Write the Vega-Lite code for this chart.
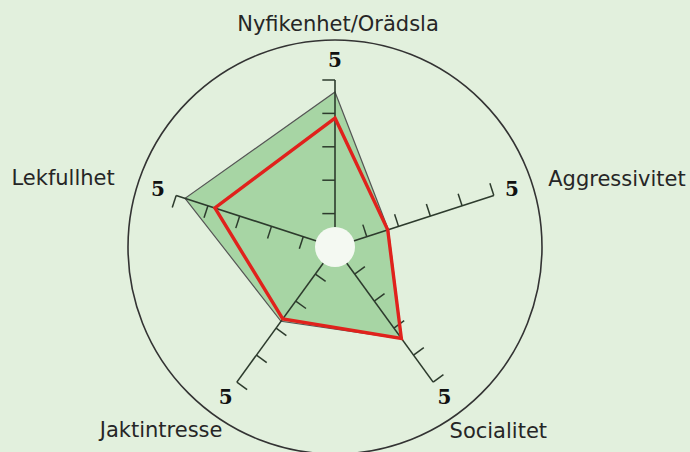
{
  "$schema": "https://vega.github.io/schema/vega-lite/v6.json",
  "width": 690,
  "height": 452,
  "autosize": {"type": "none"},
  "padding": 0,
  "background": "#e2f0dd",
  "config": {"view": {"stroke": null}},
  "datasets": {
    "axes": [
      {"axis": "Nyfikenhet/Orädsla", "idx": 0, "min": 0, "max": 5, "ticks": [1, 2, 3, 4, 5]},
      {"axis": "Aggressivitet", "idx": 1, "min": 0, "max": 5, "ticks": [1, 2, 3, 4, 5]},
      {"axis": "Socialitet", "idx": 2, "min": 0, "max": 5, "ticks": [1, 2, 3, 4, 5]},
      {"axis": "Jaktintresse", "idx": 3, "min": 0, "max": 5, "ticks": [1, 2, 3, 4, 5]},
      {"axis": "Lekfullhet", "idx": 4, "min": 0, "max": 5, "ticks": [1, 2, 3, 4, 5]}
    ],
    "scores": [
      {"series": "Genomsnitt", "axis": "Nyfikenhet/Orädsla", "idx": 0, "value": 4.64},
      {"series": "Genomsnitt", "axis": "Aggressivitet", "idx": 1, "value": 1.68},
      {"series": "Genomsnitt", "axis": "Socialitet", "idx": 2, "value": 3.4},
      {"series": "Genomsnitt", "axis": "Jaktintresse", "idx": 3, "value": 2.75},
      {"series": "Genomsnitt", "axis": "Lekfullhet", "idx": 4, "value": 4.72},
      {"series": "Hund", "axis": "Nyfikenhet/Orädsla", "idx": 0, "value": 3.86},
      {"series": "Hund", "axis": "Aggressivitet", "idx": 1, "value": 1.66},
      {"series": "Hund", "axis": "Socialitet", "idx": 2, "value": 3.38},
      {"series": "Hund", "axis": "Jaktintresse", "idx": 3, "value": 2.66},
      {"series": "Hund", "axis": "Lekfullhet", "idx": 4, "value": 3.78}
    ],
    "center": [{"cx": 0, "cy": 0}]
  },
  "layer": [
    {
      "data": {"name": "center"},
      "mark": {"type": "point", "shape": "circle", "size": 171396, "filled": false, "stroke": "#333333", "strokeWidth": 1.6, "opacity": 1},
      "encoding": {
        "x": {"field": "cx", "type": "quantitative", "scale": {"domain": [-10.0299, 10.6287], "nice": false, "zero": false}, "axis": null},
        "y": {"field": "cy", "type": "quantitative", "scale": {"domain": [-6.1377, 7.3952], "nice": false, "zero": false}, "axis": null}
      }
    },
    {
      "data": {"name": "scores"},
      "transform": [
        {"filter": "datum.series === 'Genomsnitt'"},
        {"calculate": "PI/2 - datum.idx*2*PI/5", "as": "ang"},
        {"calculate": "datum.value*cos(datum.ang)", "as": "px"},
        {"calculate": "datum.value*sin(datum.ang)", "as": "py"}
      ],
      "mark": {"type": "line", "interpolate": "linear-closed", "filled": true, "fill": "#a7d5a4", "stroke": "#555555", "strokeWidth": 1.2, "fillOpacity": 1},
      "encoding": {
        "x": {"field": "px", "type": "quantitative", "scale": {"domain": [-10.0299, 10.6287], "nice": false, "zero": false}, "axis": null},
        "y": {"field": "py", "type": "quantitative", "scale": {"domain": [-6.1377, 7.3952], "nice": false, "zero": false}, "axis": null},
        "order": {"field": "idx", "type": "quantitative"}
      }
    },
    {
      "data": {"name": "axes"},
      "transform": [
        {"calculate": "PI/2 - datum.idx*2*PI/5", "as": "ang"},
        {"calculate": "datum.min*cos(datum.ang)", "as": "sx"},
        {"calculate": "datum.min*sin(datum.ang)", "as": "sy"},
        {"calculate": "datum.max*cos(datum.ang)", "as": "ex"},
        {"calculate": "datum.max*sin(datum.ang)", "as": "ey"}
      ],
      "mark": {"type": "rule", "stroke": "#2d3b2d", "strokeWidth": 1.6},
      "encoding": {
        "x": {"field": "sx", "type": "quantitative", "scale": {"domain": [-10.0299, 10.6287], "nice": false, "zero": false}, "axis": null},
        "y": {"field": "sy", "type": "quantitative", "scale": {"domain": [-6.1377, 7.3952], "nice": false, "zero": false}, "axis": null},
        "x2": {"field": "ex"},
        "y2": {"field": "ey"}
      }
    },
    {
      "data": {"name": "axes"},
      "transform": [
        {"flatten": ["ticks"], "as": ["t"]},
        {"calculate": "PI/2 - datum.idx*2*PI/5", "as": "ang"},
        {"calculate": "datum.t*cos(datum.ang)", "as": "tx"},
        {"calculate": "datum.t*sin(datum.ang)", "as": "ty"},
        {"calculate": "datum.tx - 0.38*sin(datum.ang)", "as": "tx2"},
        {"calculate": "datum.ty + 0.38*cos(datum.ang)", "as": "ty2"}
      ],
      "mark": {"type": "rule", "stroke": "#2d3b2d", "strokeWidth": 1.5},
      "encoding": {
        "x": {"field": "tx", "type": "quantitative", "scale": {"domain": [-10.0299, 10.6287], "nice": false, "zero": false}, "axis": null},
        "y": {"field": "ty", "type": "quantitative", "scale": {"domain": [-6.1377, 7.3952], "nice": false, "zero": false}, "axis": null},
        "x2": {"field": "tx2"},
        "y2": {"field": "ty2"}
      }
    },
    {
      "data": {"name": "center"},
      "mark": {"type": "point", "shape": "circle", "size": 1600, "filled": true, "fill": "#f4f9f2", "strokeWidth": 0, "opacity": 1},
      "encoding": {
        "x": {"field": "cx", "type": "quantitative", "scale": {"domain": [-10.0299, 10.6287], "nice": false, "zero": false}, "axis": null},
        "y": {"field": "cy", "type": "quantitative", "scale": {"domain": [-6.1377, 7.3952], "nice": false, "zero": false}, "axis": null}
      }
    },
    {
      "data": {"name": "scores"},
      "transform": [
        {"filter": "datum.series === 'Hund'"},
        {"calculate": "PI/2 - datum.idx*2*PI/5", "as": "ang"},
        {"calculate": "datum.value*cos(datum.ang)", "as": "px"},
        {"calculate": "datum.value*sin(datum.ang)", "as": "py"}
      ],
      "mark": {"type": "line", "interpolate": "linear-closed", "stroke": "#e0221c", "strokeWidth": 3.4, "strokeJoin": "miter"},
      "encoding": {
        "x": {"field": "px", "type": "quantitative", "scale": {"domain": [-10.0299, 10.6287], "nice": false, "zero": false}, "axis": null},
        "y": {"field": "py", "type": "quantitative", "scale": {"domain": [-6.1377, 7.3952], "nice": false, "zero": false}, "axis": null},
        "order": {"field": "idx", "type": "quantitative"}
      }
    },
    {
      "data": {"name": "axes"},
      "transform": [
        {"calculate": "PI/2 - datum.idx*2*PI/5", "as": "ang"},
        {"calculate": "(datum.max+0.57)*cos(datum.ang)", "as": "lx"},
        {"calculate": "(datum.max+0.57)*sin(datum.ang)", "as": "ly"}
      ],
      "mark": {"type": "text", "font": "DejaVu Serif", "fontWeight": "bold", "fontSize": 20, "align": "center", "baseline": "middle", "fill": "#111111"},
      "encoding": {
        "x": {"field": "lx", "type": "quantitative", "scale": {"domain": [-10.0299, 10.6287], "nice": false, "zero": false}, "axis": null},
        "y": {"field": "ly", "type": "quantitative", "scale": {"domain": [-6.1377, 7.3952], "nice": false, "zero": false}, "axis": null},
        "text": {"field": "max", "type": "quantitative"}
      }
    },
    {
      "data": {"name": "axes"},
      "transform": [
        {"filter": "datum.idx === 0"},
        {"calculate": "PI/2 - datum.idx*2*PI/5", "as": "ang"},
        {"calculate": "6.65*cos(datum.ang)", "as": "lx"},
        {"calculate": "6.65*sin(datum.ang)", "as": "ly"}
      ],
      "mark": {"type": "text", "font": "DejaVu Sans", "fontSize": 21, "align": "center", "baseline": "alphabetic", "dx": 3, "dy": 6, "fill": "#262626"},
      "encoding": {
        "x": {"field": "lx", "type": "quantitative", "scale": {"domain": [-10.0299, 10.6287], "nice": false, "zero": false}, "axis": null},
        "y": {"field": "ly", "type": "quantitative", "scale": {"domain": [-6.1377, 7.3952], "nice": false, "zero": false}, "axis": null},
        "text": {"field": "axis", "type": "nominal"}
      }
    },
    {
      "data": {"name": "axes"},
      "transform": [
        {"filter": "datum.idx === 1"},
        {"calculate": "PI/2 - datum.idx*2*PI/5", "as": "ang"},
        {"calculate": "6.65*cos(datum.ang)", "as": "lx"},
        {"calculate": "6.65*sin(datum.ang)", "as": "ly"}
      ],
      "mark": {"type": "text", "font": "DejaVu Sans", "fontSize": 21, "align": "left", "baseline": "alphabetic", "dx": 2, "dy": 8, "fill": "#262626"},
      "encoding": {
        "x": {"field": "lx", "type": "quantitative", "scale": {"domain": [-10.0299, 10.6287], "nice": false, "zero": false}, "axis": null},
        "y": {"field": "ly", "type": "quantitative", "scale": {"domain": [-6.1377, 7.3952], "nice": false, "zero": false}, "axis": null},
        "text": {"field": "axis", "type": "nominal"}
      }
    },
    {
      "data": {"name": "axes"},
      "transform": [
        {"filter": "datum.idx === 2"},
        {"calculate": "PI/2 - datum.idx*2*PI/5", "as": "ang"},
        {"calculate": "6.65*cos(datum.ang)", "as": "lx"},
        {"calculate": "6.65*sin(datum.ang)", "as": "ly"}
      ],
      "mark": {"type": "text", "font": "DejaVu Sans", "fontSize": 21, "align": "left", "baseline": "alphabetic", "dx": -16, "dy": 11, "fill": "#262626"},
      "encoding": {
        "x": {"field": "lx", "type": "quantitative", "scale": {"domain": [-10.0299, 10.6287], "nice": false, "zero": false}, "axis": null},
        "y": {"field": "ly", "type": "quantitative", "scale": {"domain": [-6.1377, 7.3952], "nice": false, "zero": false}, "axis": null},
        "text": {"field": "axis", "type": "nominal"}
      }
    },
    {
      "data": {"name": "axes"},
      "transform": [
        {"filter": "datum.idx === 3"},
        {"calculate": "PI/2 - datum.idx*2*PI/5", "as": "ang"},
        {"calculate": "6.65*cos(datum.ang)", "as": "lx"},
        {"calculate": "6.65*sin(datum.ang)", "as": "ly"}
      ],
      "mark": {"type": "text", "font": "DejaVu Sans", "fontSize": 21, "align": "right", "baseline": "alphabetic", "dx": 18, "dy": 10, "fill": "#262626"},
      "encoding": {
        "x": {"field": "lx", "type": "quantitative", "scale": {"domain": [-10.0299, 10.6287], "nice": false, "zero": false}, "axis": null},
        "y": {"field": "ly", "type": "quantitative", "scale": {"domain": [-6.1377, 7.3952], "nice": false, "zero": false}, "axis": null},
        "text": {"field": "axis", "type": "nominal"}
      }
    },
    {
      "data": {"name": "axes"},
      "transform": [
        {"filter": "datum.idx === 4"},
        {"calculate": "PI/2 - datum.idx*2*PI/5", "as": "ang"},
        {"calculate": "6.65*cos(datum.ang)", "as": "lx"},
        {"calculate": "6.65*sin(datum.ang)", "as": "ly"}
      ],
      "mark": {"type": "text", "font": "DejaVu Sans", "fontSize": 21, "align": "right", "baseline": "alphabetic", "dx": -9, "dy": 7, "fill": "#262626"},
      "encoding": {
        "x": {"field": "lx", "type": "quantitative", "scale": {"domain": [-10.0299, 10.6287], "nice": false, "zero": false}, "axis": null},
        "y": {"field": "ly", "type": "quantitative", "scale": {"domain": [-6.1377, 7.3952], "nice": false, "zero": false}, "axis": null},
        "text": {"field": "axis", "type": "nominal"}
      }
    }
  ]
}
